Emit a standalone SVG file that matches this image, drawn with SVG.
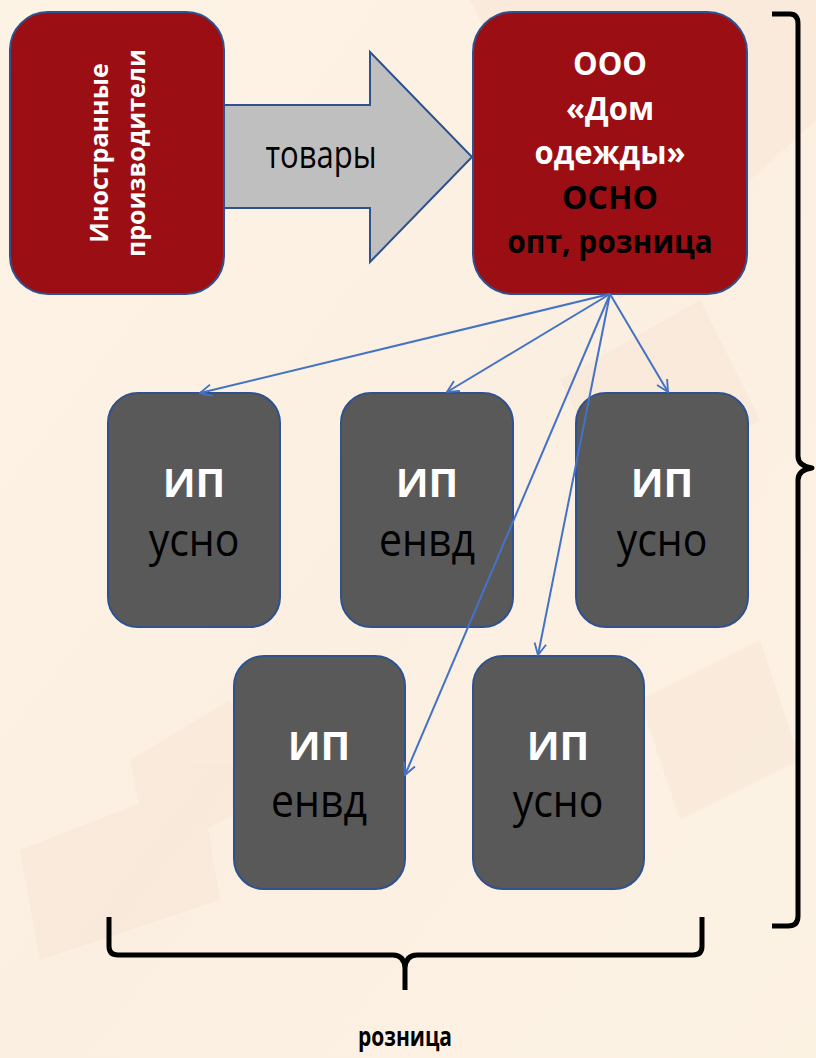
<svg xmlns="http://www.w3.org/2000/svg" width="816" height="1058" viewBox="0 0 816 1058">
<style>
.red{fill:#9B0E13;stroke:#2F528F;stroke-width:2}
.ip{fill:#595959;stroke:#2F528F;stroke-width:2}
.conn{stroke:#4472C4;stroke-width:2;fill:none;marker-end:url(#ah)}
.brace{fill:none;stroke:#000;stroke-width:5;stroke-linejoin:round;stroke-linecap:butt}
.wb{font-family:"Open Sans","Liberation Sans",sans-serif;font-weight:bold;fill:#fff;text-anchor:middle}
.bb{font-family:"Open Sans","Liberation Sans",sans-serif;font-weight:bold;fill:#000;text-anchor:middle}
.bn{font-family:"Open Sans","Liberation Sans",sans-serif;fill:#000;text-anchor:middle}
</style>
<defs>
<linearGradient id="bg" x1="0" y1="0" x2="1" y2="1">
<stop offset="0" stop-color="#FDF3E4"/>
<stop offset="0.5" stop-color="#FBEFE2"/>
<stop offset="1" stop-color="#FCF2E2"/>
</linearGradient>
<marker id="ah" viewBox="0 0 12 12" refX="11" refY="6" markerWidth="14" markerHeight="14" markerUnits="userSpaceOnUse" orient="auto">
<path d="M1,1 L11,6 L1,11" fill="none" stroke="#4472C4" stroke-width="1.6"/>
</marker>
</defs>
<rect x="0" y="0" width="816" height="1058" fill="url(#bg)"/>
<g opacity="0.12" fill="#EBC3B0">
<polygon points="470,0 816,0 816,120 620,300"/>
<polygon points="560,380 700,300 760,420 620,500"/>
<polygon points="130,760 230,700 260,800 150,860"/>
<polygon points="20,850 200,780 220,900 40,960"/>
<polygon points="640,700 760,640 800,760 680,820"/>
</g>
<g id="foreign">
<rect class="red" x="10" y="12" width="214" height="282" rx="38"/>
<text class="wb" font-size="25" transform="translate(108,153) rotate(-90)">Иностранные</text>
<text class="wb" font-size="25" transform="translate(145,153) rotate(-90)">производители</text>
</g>
<g id="goods">
<polygon points="224,105 370,105 370,52 472,157 370,262 370,208 224,208" fill="#BFBFBF" stroke="#2F528F" stroke-width="2"/>
<text class="bn" font-size="31" transform="translate(321,168) scale(1,1.25)">товары</text>
</g>
<g id="ooo">
<rect class="red" x="473" y="12" width="274" height="282" rx="40"/>
<text class="wb" font-size="31" transform="translate(610,75) scale(1,1.05)">ООО</text>
<text class="wb" font-size="31" transform="translate(610,120) scale(1,1.05)">«Дом</text>
<text class="wb" font-size="31" transform="translate(610,164) scale(1,1.05)">одежды»</text>
<text class="bb" font-size="32" transform="translate(610,209) scale(1,1.02)">ОСНО</text>
<text class="bb" font-size="30" transform="translate(610,253) scale(1,1.08)">опт, розница</text>
</g>
<g id="ip1">
<rect class="ip" x="108" y="393" width="172" height="234" rx="30"/>
<text class="wb" font-size="40" x="194" y="497">ИП</text>
<text class="bn" font-size="41" transform="translate(194,556) scale(1,1.12)">усно</text>
</g>
<g id="ip2">
<rect class="ip" x="341" y="393" width="172" height="234" rx="30"/>
<text class="wb" font-size="40" x="427" y="497">ИП</text>
<text class="bn" font-size="41" transform="translate(427,556) scale(1,1.12)">енвд</text>
</g>
<g id="ip3">
<rect class="ip" x="576" y="393" width="172" height="234" rx="30"/>
<text class="wb" font-size="40" x="662" y="497">ИП</text>
<text class="bn" font-size="41" transform="translate(662,556) scale(1,1.12)">усно</text>
</g>
<g id="ip4">
<rect class="ip" x="234" y="656" width="171" height="233" rx="30"/>
<text class="wb" font-size="40" x="319" y="760">ИП</text>
<text class="bn" font-size="41" transform="translate(319,817) scale(1,1.12)">енвд</text>
</g>
<g id="ip5">
<rect class="ip" x="473" y="656" width="171" height="233" rx="30"/>
<text class="wb" font-size="40" x="558" y="760">ИП</text>
<text class="bn" font-size="41" transform="translate(558,817) scale(1,1.12)">усно</text>
</g>
<g id="connectors">
<line class="conn" x1="610" y1="294" x2="200" y2="393"/>
<line class="conn" x1="610" y1="294" x2="447" y2="392"/>
<line class="conn" x1="610" y1="294" x2="668" y2="392"/>
<line class="conn" x1="610" y1="294" x2="538" y2="655"/>
<line class="conn" x1="610" y1="294" x2="405" y2="775"/>
</g>
<g id="brace-right">
<path class="brace" d="M772,14 L790,14 Q798,14 798,24 L798,456 Q798,466 812,468 Q798,470 798,480 L798,916 Q798,926 788,926 L772,926"/>
</g>
<g id="brace-bottom">
<path class="brace" d="M109,917 L109,946 Q109,955 118,955 L393,955 Q404,955 405,968 L405,990 M405,990 L405,968 Q406,955 417,955 L693,955 Q702,955 702,946 L702,917"/>
<text class="bb" font-size="21" transform="translate(405,1046) scale(1,1.3)">розница</text>
</g>
</svg>
